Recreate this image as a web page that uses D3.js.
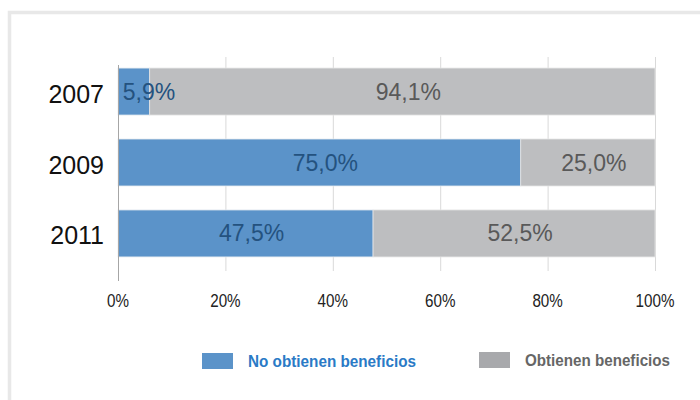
<!DOCTYPE html>
<html>
<head>
<meta charset="utf-8">
<script src="https://cdn.jsdelivr.net/npm/d3@7"></script>
<style>
  body { margin: 0; background: #fff; }
</style>
</head>
<body>
<script>
// data
var years = ["2007", "2009", "2011"];
var noBenef = [5.9, 75.0, 47.5];
var siBenef = [94.1, 25.0, 52.5];
var ticks = [0, 20, 40, 60, 80, 100];
var seriesNames = ["No obtienen beneficios", "Obtienen beneficios"];

var width = 700, height = 400;
var colBlue = "#5b93c9", colGray = "#bdbec0";

var svg = d3.select("body").append("svg")
    .attr("width", width)
    .attr("height", height);

// frame
svg.append("rect")
    .attr("x", 9.5).attr("y", 12.5)
    .attr("width", 720).attr("height", 420)
    .attr("fill", "none")
    .attr("stroke", "#e8e8e8")
    .attr("stroke-width", 3.5);

var x = d3.scaleLinear().domain([0, 100]).range([118, 655]);
var y = d3.scaleBand().domain(years).range([56, 269]).paddingInner(0.338).paddingOuter(0.17);

// gridlines
svg.append("g").selectAll("line")
    .data(ticks.slice(1))
    .enter().append("line")
    .attr("x1", function (d) { return x(d) + 0.5; })
    .attr("x2", function (d) { return x(d) + 0.5; })
    .attr("y1", 57).attr("y2", 271)
    .attr("stroke", "#d9d9d9").attr("stroke-width", 1);

var rows = years.map(function (yr, i) {
    return {year: yr, a: noBenef[i], b: siBenef[i]};
});

var g = svg.append("g").selectAll("g")
    .data(rows).enter().append("g");

g.append("rect")
    .attr("x", x(0))
    .attr("y", function (d) { return y(d.year); })
    .attr("width", function (d) { return x(d.a) - x(0); })
    .attr("height", y.bandwidth())
    .attr("fill", colBlue)
    .attr("stroke", "#e4e9ef").attr("stroke-width", 0.8);

g.append("rect")
    .attr("x", function (d) { return x(d.a); })
    .attr("y", function (d) { return y(d.year); })
    .attr("width", function (d) { return x(d.a + d.b) - x(d.a); })
    .attr("height", y.bandwidth())
    .attr("fill", colGray)
    .attr("stroke", "#e4e4e4").attr("stroke-width", 0.8);

function fmt(v) { return v.toFixed(1).replace(".", ",") + "%"; }

// value labels
g.append("text")
    .attr("x", function (d) {
        var c = (x(0) + x(d.a)) / 2 + 6;
        return Math.max(c, x(0) + 31);
    })
    .attr("y", function (d) { return y(d.year) + y.bandwidth() / 2 + 8; })
    .attr("text-anchor", "middle")
    .style("font-family", "'Liberation Sans', Arial, sans-serif")
    .style("font-size", "23px")
    .attr("fill", "#24527f")
    .text(function (d) { return fmt(d.a); });

g.append("text")
    .attr("x", function (d) { return (x(d.a) + x(100)) / 2 + 6; })
    .attr("y", function (d) { return y(d.year) + y.bandwidth() / 2 + 8; })
    .attr("text-anchor", "middle")
    .style("font-family", "'Liberation Sans', Arial, sans-serif")
    .style("font-size", "23px")
    .attr("fill", "#595959")
    .text(function (d) { return fmt(d.b); });

// year labels
g.append("text")
    .attr("x", 104)
    .attr("y", function (d) { return y(d.year) + y.bandwidth() / 2 + 11; })
    .attr("text-anchor", "end")
    .style("font-family", "'Liberation Sans', Arial, sans-serif")
    .style("font-size", "25px")
    .attr("fill", "#111")
    .text(function (d) { return d.year; });

// left axis line
svg.append("line")
    .attr("x1", x(0) + 0.5).attr("x2", x(0) + 0.5)
    .attr("y1", 65).attr("y2", 281)
    .attr("stroke", "#a6a6a6").attr("stroke-width", 1);

// x tick labels (condensed look)
svg.append("g").selectAll("text")
    .data(ticks).enter().append("text")
    .attr("transform", function (d) { return "translate(" + x(d) + ",307) scale(0.8,1)"; })
    .attr("text-anchor", "middle")
    .style("font-family", "'Liberation Sans', sans-serif")
    .style("font-size", "19px")
    .attr("fill", "#222")
    .text(function (d) { return d + "%"; });

// legend
var legend = [
    {name: seriesNames[0], fill: colBlue, text: "#2a7ac6", x: 202, y: 353, w: 168},
    {name: seriesNames[1], fill: "#a8a9ac", text: "#666", x: 479, y: 352, w: 145}
];
var lg = svg.append("g").selectAll("g").data(legend).enter().append("g");
lg.append("rect")
    .attr("x", function (d) { return d.x; })
    .attr("y", function (d) { return d.y; })
    .attr("width", 31).attr("height", 16)
    .attr("fill", function (d) { return d.fill; });
lg.append("text")
    .attr("x", function (d) { return d.x + 46; })
    .attr("y", function (d) { return d.y + 14; })
    .attr("textLength", function (d) { return d.w; })
    .attr("lengthAdjust", "spacingAndGlyphs")
    .style("font-family", "'Liberation Sans', sans-serif")
    .style("font-weight", "bold")
    .style("font-size", "17px")
    .attr("fill", function (d) { return d.text; })
    .text(function (d) { return d.name; });
</script>
</body>
</html>
